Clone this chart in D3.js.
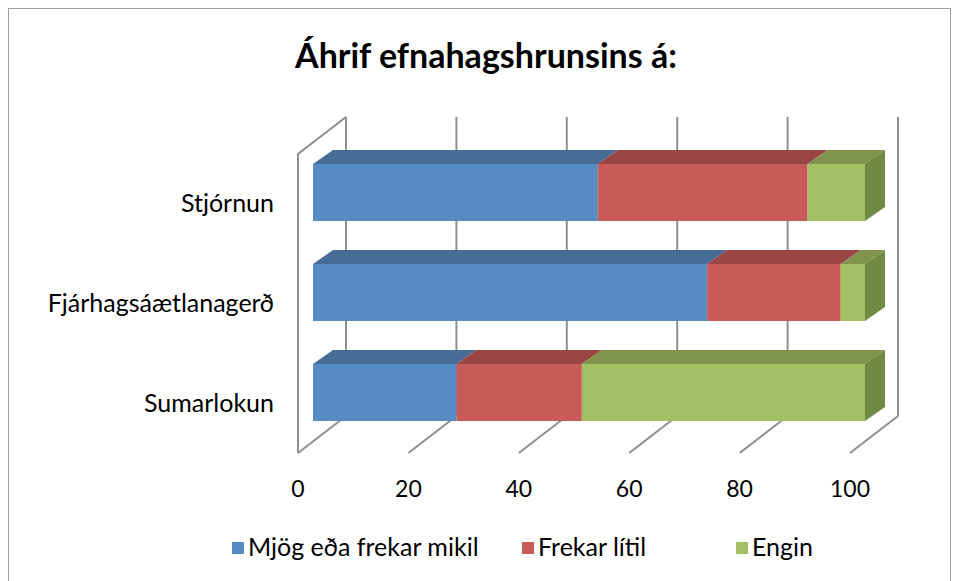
<!DOCTYPE html>
<html>
<head>
<meta charset="utf-8">
<script src="https://cdnjs.cloudflare.com/ajax/libs/d3/7.8.5/d3.min.js"></script>
<style>
  body { margin: 0; background: #fff; }
  text { font-family: Lato, "Open Sans", sans-serif; fill: #000; }
</style>
</head>
<body>
<div id="chart"></div>
<script>
// data (percent)
var categories = ["Stjórnun", "Fjárhagsáætlanagerð", "Sumarlokun"];
var seriesKeys = ["mikil", "litil", "engin"];
var seriesNames = ["Mjög eða frekar mikil", "Frekar lítil", "Engin"];
var mikil = [51.6, 71.4, 26.0];
var litil = [38.0, 24.2, 22.7];
var engin = [10.4, 4.4, 51.3];
var tickValues = [0, 20, 40, 60, 80, 100];
var titleText = "Áhrif efnahagshrunsins á:";

var width = 958,
    height = 581;

// front plane of the 3d box
var plot = {left: 298, right: 850, top: 154, bottom: 453};
var depth = {x: 48, y: -37};      // wall depth
var barOff = {x: 15, y: -11};     // bars sit a bit behind the front plane
var barDepth = {x: 20, y: -14};

var frontColors = ["#568bc3", "#c65b57", "#a2c063"];
var topColors = ["#466c97", "#9a4543", "#80944d"];
var sideColors = ["#3e5f86", "#87403e", "#718a42"];

var svg = d3.select("#chart")
    .append("svg")
        .attr("width", width)
        .attr("height", height);

// chart border
svg.append("rect")
    .attr("x", 8.5)
    .attr("y", 8.5)
    .attr("width", 942)
    .attr("height", 590)
    .attr("fill", "none")
    .attr("stroke", "#a0a0a0")
    .attr("stroke-width", 1);

svg.append("text")
    .attr("x", 486)
    .attr("y", 68)
    .attr("text-anchor", "middle")
    .style("font-size", "34px")
    .style("font-weight", "bold")
    .text(titleText);

var table = categories.map(function(c, i) {
    return {category: c, mikil: mikil[i], litil: litil[i], engin: engin[i]};
});
var series = d3.stack().keys(seriesKeys)(table);

var x = d3.scaleLinear()
    .domain([0, 100])
    .range([plot.left, plot.right]);

var y = d3.scaleBand()
    .domain(categories)
    .range([plot.top, plot.bottom])
    .paddingInner(0.43)
    .paddingOuter(0.21);

var gridColor = "#8e8e8e";

// back gridlines
svg.append("g")
    .selectAll("line")
    .data(tickValues)
    .enter()
    .append("line")
        .attr("x1", function(d) { return x(d) + depth.x; })
        .attr("x2", function(d) { return x(d) + depth.x; })
        .attr("y1", plot.top + depth.y)
        .attr("y2", plot.bottom + depth.y)
        .attr("stroke", gridColor)
        .attr("stroke-width", 2);

// floor diagonals
svg.append("g")
    .selectAll("line")
    .data(tickValues)
    .enter()
    .append("line")
        .attr("x1", function(d) { return x(d); })
        .attr("x2", function(d) { return x(d) + depth.x; })
        .attr("y1", plot.bottom)
        .attr("y2", plot.bottom + depth.y)
        .attr("stroke", gridColor)
        .attr("stroke-width", 2);

// left wall
svg.append("path")
    .attr("d", "M" + (x(0) + depth.x) + "," + (plot.top + depth.y) +
        "L" + x(0) + "," + plot.top +
        "L" + x(0) + "," + plot.bottom)
    .attr("fill", "none")
    .attr("stroke", gridColor)
    .attr("stroke-width", 2);

// bars
var bw = y.bandwidth();
var layers = svg.append("g")
    .selectAll("g")
    .data(series)
    .enter()
    .append("g");

layers.each(function(s, si) {
    var g = d3.select(this);
    s.forEach(function(d) {
        var x0 = x(d[0]) + barOff.x,
            x1 = x(d[1]) + barOff.x,
            yt = y(d.data.category) + barOff.y,
            yb = yt + bw;
        g.append("polygon")
            .attr("points", [[x0, yt], [x1, yt], [x1 + barDepth.x, yt + barDepth.y], [x0 + barDepth.x, yt + barDepth.y]].join(" "))
            .attr("fill", topColors[si]);
        g.append("rect")
            .attr("x", x0)
            .attr("y", yt)
            .attr("width", x1 - x0)
            .attr("height", bw)
            .attr("fill", frontColors[si]);
        if (si == series.length - 1) {
            g.append("polygon")
                .attr("points", [[x1, yt], [x1 + barDepth.x, yt + barDepth.y], [x1 + barDepth.x, yb + barDepth.y], [x1, yb]].join(" "))
                .attr("fill", sideColors[si]);
        }
    });
});

// category labels
svg.append("g")
    .selectAll("text")
    .data(categories)
    .enter()
    .append("text")
        .attr("x", 274)
        .attr("y", function(d) { return y(d) + bw / 2 + 8; })
        .attr("text-anchor", "end")
        .style("font-size", "25px")
        .text(function(d) { return d; });

// value ticks
svg.append("g")
    .selectAll("text")
    .data(tickValues)
    .enter()
    .append("text")
        .attr("x", function(d) { return x(d); })
        .attr("y", 497)
        .attr("text-anchor", "middle")
        .style("font-size", "23px")
        .text(function(d) { return d; });

// legend
var legendX = [232, 522, 736];
var legend = svg.append("g")
    .selectAll("g")
    .data(seriesNames)
    .enter()
    .append("g")
        .attr("transform", function(d, i) { return "translate(" + legendX[i] + ",542)"; });

legend.append("rect")
    .attr("width", 12)
    .attr("height", 12)
    .attr("fill", function(d, i) { return frontColors[i]; });

legend.append("text")
    .attr("x", 16)
    .attr("y", 14)
    .style("font-size", "25px")
    .text(function(d) { return d; });
</script>
</body>
</html>
